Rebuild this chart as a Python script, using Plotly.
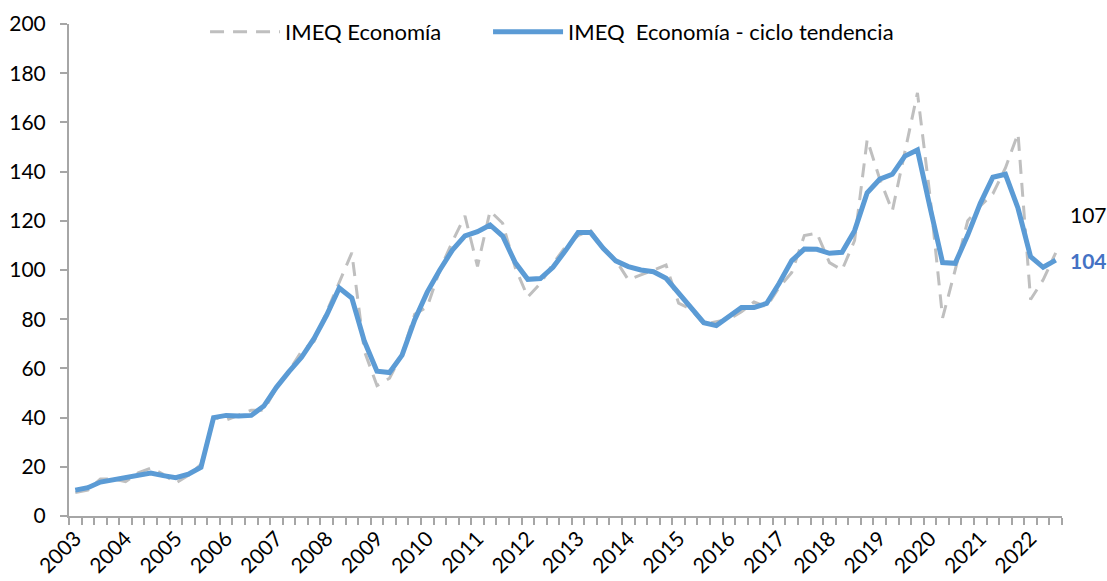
import plotly.graph_objects as go

# Quarterly data 2003-Q1 .. 2022-Q3
years = [str(y) for y in range(2003, 2023)]
quarters = [f"{y}-T{q}" for y in range(2003, 2023) for q in range(1, 5)][:79]

imeq = [9.5, 10.5, 15.0, 15.0, 14.0, 17.5, 19.5, 17.0, 13.4, 16.5,
        21.0, 40.0, 39.0, 41.0, 43.0, 43.0, 52.0, 59.0, 67.0, 71.0,
        83.0, 95.0, 107.0, 67.0, 53.0, 56.0, 66.0, 82.0, 85.0, 100.0,
        111.5, 122.0, 101.5, 124.0, 119.0, 101.0, 89.0, 94.5, 102.5, 109.5,
        114.0, 116.0, 109.0, 104.0, 96.0, 98.0, 100.0, 102.0, 86.5, 84.0,
        78.0, 79.0, 80.0, 83.0, 87.0, 85.0, 93.0, 99.0, 114.0, 115.0,
        103.0, 100.0, 112.0, 153.0, 137.0, 124.0, 148.0, 172.0, 130.0, 80.5,
        100.0, 120.0, 126.0, 131.0, 141.5, 155.5, 88.0, 96.0, 107.0]

tendencia = [10.5, 11.5, 13.8, 14.8, 15.5, 17.0, 17.5, 16.4, 15.6, 17.0,
             19.8, 40.0, 40.9, 40.7, 40.9, 44.7, 52.3, 58.7, 64.5, 72.2,
             81.7, 92.7, 88.6, 71.0, 58.9, 58.3, 65.4, 79.7, 91.0, 100.0,
             108.1, 113.9, 115.6, 118.3, 113.8, 103.0, 96.2, 96.5, 101.1, 107.9,
             115.2, 115.2, 108.8, 103.7, 101.4, 100.0, 99.3, 96.6, 90.8, 84.4,
             78.6, 77.4, 81.0, 84.8, 84.8, 86.4, 94.6, 103.8, 108.5, 108.4,
             106.8, 107.2, 116.0, 131.4, 136.9, 138.9, 146.3, 148.8, 125.5, 103.0,
             102.7, 114.2, 127.1, 137.7, 138.9, 125.1, 105.4, 101.1, 104.0]

y_ticks = [0, 20, 40, 60, 80, 100, 120, 140, 160, 180, 200]

FONT = "Lato"
AXIS = "#A6A6A6"
x = list(range(len(quarters)))

fig = go.Figure()
fig.add_trace(go.Scatter(
    x=x, y=imeq, mode="lines", name="IMEQ Economía", legend="legend",
    line=dict(color="#BFBFBF", width=3, dash="14px,9px"),
    customdata=quarters,
))
fig.add_trace(go.Scatter(
    x=x, y=tendencia, mode="lines", name="IMEQ  Economía - ciclo tendencia", legend="legend2",
    line=dict(color="#5B9BD5", width=5),
    customdata=quarters,
))

last = len(x) - 1
fig.add_annotation(x=x[last], y=imeq[last], text=f"{imeq[last]:.0f}",
                   xanchor="left", yanchor="middle", xshift=12, yshift=38,
                   showarrow=False, font=dict(family=FONT, size=21, color="black"))
fig.add_annotation(x=x[last], y=tendencia[last], text=f"<b>{tendencia[last]:.0f}</b>",
                   xanchor="left", yanchor="middle", xshift=12, yshift=0,
                   showarrow=False, font=dict(family=FONT, size=21, color="#4472C4"))

legend_common = dict(orientation="h", xanchor="left", y=0.984, yanchor="middle",
                     font=dict(family=FONT, size=22), itemwidth=70,
                     bgcolor="rgba(0,0,0,0)")

fig.update_layout(
    width=1107, height=581,
    margin=dict(l=69, r=45, t=24, b=65, autoexpand=False),
    paper_bgcolor="white", plot_bgcolor="white",
    font=dict(family=FONT, size=21, color="black"),
    showlegend=True,
    legend=dict(x=0.137, **legend_common),
    legend2=dict(x=0.422, **legend_common),
)
fig.update_xaxes(
    range=[-0.5, len(x) - 0.5], showgrid=False, zeroline=False, automargin=False,
    showline=True, linecolor=AXIS, linewidth=2,
    tickmode="array", tickvals=[x[i] for i in range(0, len(x), 4)], ticktext=years,
    tickangle=-45, ticks="outside", ticklen=0, tickfont=dict(family=FONT, size=21),
    minor=dict(tickmode="array", tickvals=[i - 0.5 for i in range(len(x) + 1)],
               ticks="outside", ticklen=7, tickcolor=AXIS, tickwidth=2),
)
fig.update_yaxes(
    range=[0, 200], showgrid=False, zeroline=False, automargin=False,
    showline=True, linecolor=AXIS, linewidth=2,
    tickmode="array", tickvals=y_ticks,
    ticks="outside", ticklen=7, tickcolor=AXIS, tickwidth=2,
    tickfont=dict(family=FONT, size=21), ticklabelstandoff=10,
)

fig.write_html("out.html", config={"displayModeBar": False},
               post_script="document.body.style.margin='0';")
